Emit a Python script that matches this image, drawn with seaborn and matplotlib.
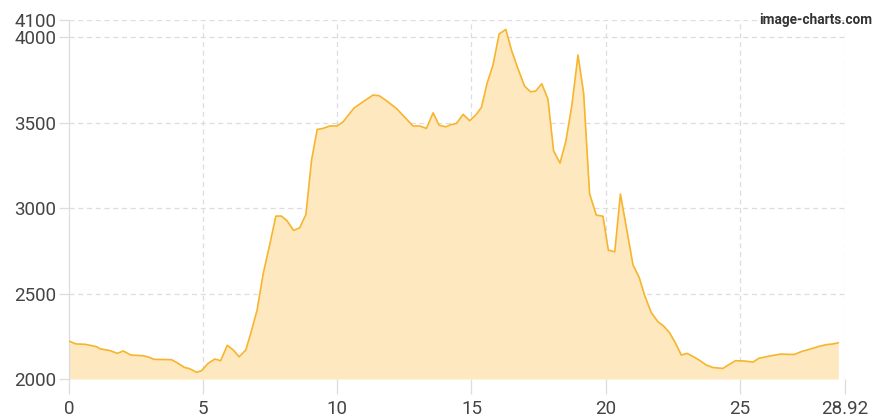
import matplotlib
matplotlib.use("Agg")
import matplotlib.pyplot as plt
import seaborn as sns
import pandas as pd

distance_km = [0.0, 0.26, 0.6, 1.03, 1.15, 1.53, 1.8, 2.02, 2.31, 2.77, 2.95, 3.17, 3.82, 4.01,
               4.3, 4.5, 4.76, 4.94, 5.19, 5.44, 5.65, 5.9, 6.12, 6.34, 6.59, 6.8, 7.01, 7.24,
               7.49, 7.71, 7.92, 8.13, 8.37, 8.6, 8.83, 9.04, 9.25, 9.47, 9.72, 9.99, 10.22,
               10.61, 10.96, 11.33, 11.56, 11.83, 12.2, 12.55, 12.82, 13.07, 13.32, 13.57,
               13.79, 14.04, 14.22, 14.44, 14.69, 14.93, 15.16, 15.37, 15.58, 15.8, 16.03,
               16.28, 16.49, 16.73, 16.98, 17.2, 17.39, 17.62, 17.85, 18.06, 18.3, 18.52,
               18.74, 18.97, 19.18, 19.4, 19.65, 19.9, 20.1, 20.34, 20.55, 20.79, 21.02,
               21.25, 21.45, 21.7, 21.95, 22.16, 22.38, 22.61, 22.82, 23.03, 23.28, 23.5,
               23.75, 24.0, 24.37, 24.6, 24.84, 25.18, 25.49, 25.71, 25.98, 26.23, 26.54,
               26.79, 27.04, 27.29, 27.6, 27.91, 28.22, 28.47, 28.67]
elevation = [2222, 2205, 2203, 2189, 2177, 2166, 2150, 2164, 2140, 2136, 2129, 2115, 2113, 2097,
             2068, 2060, 2039, 2049, 2092, 2117, 2107, 2197, 2170, 2130, 2170, 2281, 2403, 2618,
             2793, 2953, 2953, 2925, 2869, 2885, 2963, 3281, 3460, 3466, 3480, 3480, 3505,
             3583, 3622, 3661, 3657, 3628, 3583, 3525, 3480, 3480, 3466, 3557,
             3485, 3475, 3487, 3495, 3548, 3511, 3544, 3589, 3729, 3836, 4018,
             4045, 3924, 3816, 3713, 3680, 3684, 3727, 3637, 3334, 3263, 3393,
             3600, 3895, 3671, 3085, 2959, 2952, 2754, 2744, 3082, 2871, 2667,
             2594, 2491, 2388, 2335, 2310, 2271, 2208, 2140, 2150, 2130, 2109,
             2082, 2067, 2062, 2085, 2107, 2105, 2099, 2121, 2130, 2138, 2146,
             2144, 2144, 2160, 2174, 2189, 2201, 2205, 2212]

x_ticks = [0, 5, 10, 15, 20, 25, 28.92]
x_tick_labels = ["0", "5", "10", "15", "20", "25", "28.92"]
y_ticks = [2000, 2500, 3000, 3500, 4000, 4100]
y_tick_labels = ["2000", "2500", "3000", "3500", "4000", "4100"]

df = pd.DataFrame({"distance": distance_km, "elevation": elevation})

sns.set_theme(style="white")
plt.rcParams["font.family"] = ["Roboto", "DejaVu Sans"]

fig = plt.figure(figsize=(8.78, 4.2), dpi=100)
ax = fig.add_axes([69 / 878, 1 - 379 / 420, (845 - 69) / 878, (379 - 20) / 420])

line_color = "#f7b42c"
fill_color = "#fde8bf"
grid_color = "#dddddd"

ax.fill_between(df["distance"], df["elevation"], 2000, color=fill_color, lw=0, zorder=1)
sns.lineplot(data=df, x="distance", y="elevation", ax=ax, color=line_color, lw=1.2,
             zorder=3, sort=False)

ax.set_xlim(0, 28.92)
ax.set_ylim(2000, 4100)
ax.set_xticks(x_ticks)
ax.set_xticklabels(x_tick_labels)
ax.set_yticks(y_ticks)
ax.set_yticklabels(y_tick_labels)
ax.set_xlabel("")
ax.set_ylabel("")

for v in x_ticks[1:]:
    ax.axvline(v, color=grid_color, lw=0.9, ls=(0, (4, 3)), zorder=0)
for v in y_ticks[1:]:
    ax.axhline(v, color=grid_color, lw=0.9, ls=(0, (4, 3)), zorder=0)

for s in ["top", "right", "bottom"]:
    ax.spines[s].set_visible(False)
ax.spines["left"].set_color(grid_color)
ax.spines["left"].set_linewidth(0.9)

ax.tick_params(axis="both", which="both", colors=grid_color, labelcolor="#444444",
               labelsize=13.5, width=0.9)
ax.tick_params(axis="y", length=7, pad=2, direction="out")
ax.tick_params(axis="x", length=11, pad=4, direction="out")
ax.tick_params(left=True, bottom=True)

fig.text(872 / 878, 1 - 20 / 420, "image-charts.com", ha="right", va="center",
         fontsize=9.8, color="#333333", fontweight="bold")

fig.savefig("out.png", dpi=100)
